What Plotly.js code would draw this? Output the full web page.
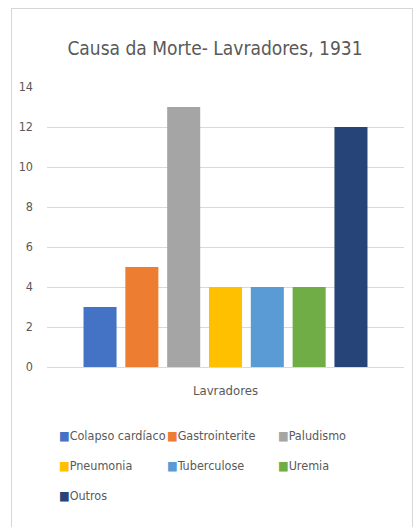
<!DOCTYPE html>
<html>
<head>
<meta charset="utf-8">
<script src="https://cdn.plot.ly/plotly-3.0.1.min.js"></script>
<style>
  html, body { margin: 0; padding: 0; background: #fff; }
  #wrap { position: relative; width: 414px; height: 527px; overflow: hidden; }
  #chart { position: absolute; left: 0; top: 0; width: 414px; height: 527px; }
  #frame { position: absolute; left: 11px; top: 8px; width: 400px; height: 540px;
           border: 1px solid #d6d6d6; pointer-events: none; }
</style>
</head>
<body>
<div id="wrap"><div id="chart"></div><div id="frame"></div></div>
<script>
const groupLabel = 'Lavradores';
const causes = ['Colapso cardíaco', 'Gastrointerite', 'Paludismo', 'Pneumonia', 'Tuberculose', 'Uremia', 'Outros'];
const deaths = [3, 5, 13, 4, 4, 4, 12];
const colors = ['#4472C4', '#ED7D31', '#A5A5A5', '#FFC000', '#5B9BD5', '#70AD47', '#264478'];
const yTicks = [0, 2, 4, 6, 8, 10, 12, 14];

const FONT = '"DejaVu Sans Condensed", "Roboto", sans-serif';
const TXT = '#595959';

const traces = causes.map((c, i) => ({
  type: 'bar',
  name: c,
  x: [groupLabel],
  y: [deaths[i]],
  marker: { color: colors[i] },
  showlegend: false,
  hoverinfo: 'name+y'
}));

// legend drawn as annotations (3 columns)
const plotL = 47, plotW = 357, plotT = 87, plotH = 280;
const colPx = [57, 165, 276];
const rowPx = [435, 465, 495];
const annotations = causes.map((c, i) => ({
  xref: 'paper', yref: 'paper',
  x: (colPx[i % 3] - plotL) / plotW,
  y: (plotT + plotH - rowPx[Math.floor(i / 3)]) / plotH,
  xanchor: 'left', yanchor: 'middle',
  showarrow: false,
  text: '<span style="color:' + colors[i] + '">■</span>' + c,
  font: { family: FONT, size: 12.5, color: TXT }
}));

const layout = {
  width: 414, height: 527,
  margin: { l: plotL, r: 414 - plotL - plotW, t: plotT, b: 527 - plotT - plotH },
  paper_bgcolor: '#fff', plot_bgcolor: '#fff',
  font: { family: FONT, color: TXT },
  title: {
    text: 'Causa da Morte- Lavradores, 1931',
    font: { family: FONT, size: 19, color: TXT },
    xref: 'container', x: 215 / 414, xanchor: 'center',
    yref: 'container', y: 1 - 48 / 527, yanchor: 'middle'
  },
  barmode: 'group',
  bargap: 0.18,
  bargroupgap: 0.21,
  xaxis: {
    type: 'category',
    showgrid: false, zeroline: false, showline: false, ticks: '',
    tickfont: { family: FONT, size: 13, color: TXT },
    ticklabelstandoff: 14
  },
  yaxis: {
    range: [0, 14],
    tickvals: yTicks,
    showgrid: true, gridcolor: '#d9d9d9', gridwidth: 1,
    zeroline: true, zerolinecolor: '#d9d9d9', zerolinewidth: 1,
    showline: false, ticks: '',
    tickfont: { family: FONT, size: 12.5, color: TXT },
    ticklabelstandoff: 13
  },
  annotations: annotations
};

Plotly.newPlot('chart', traces, layout, { displayModeBar: false, staticPlot: true });
</script>
</body>
</html>
